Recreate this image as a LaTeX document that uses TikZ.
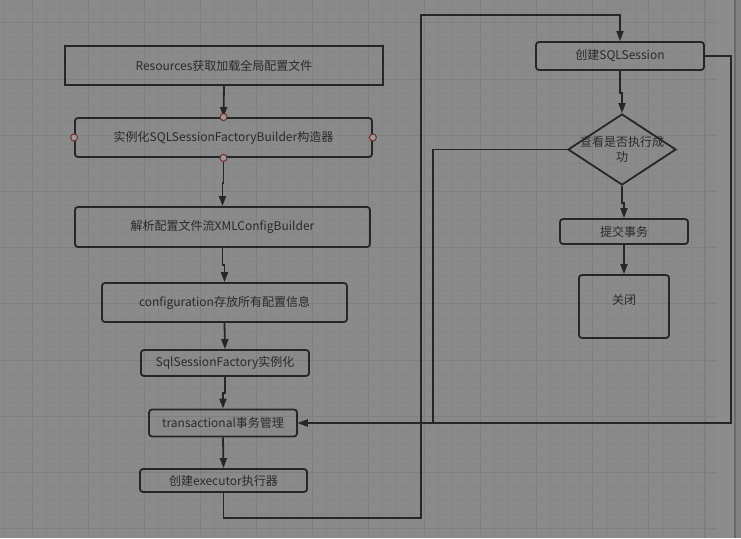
\documentclass[tikz,border=0pt]{standalone}
\usepackage{fontspec}
\setmainfont{Noto Sans CJK SC}
\usetikzlibrary{arrows.meta, shapes.geometric}

\definecolor{bggray}{HTML}{8A8A8A}
\definecolor{gridminor}{HTML}{858585}
\definecolor{gridmajor}{HTML}{7F7F7F}
\definecolor{stripgray}{HTML}{8C8C8C}
\definecolor{edgegray}{HTML}{6A6A6A}
\definecolor{outgray}{HTML}{828282}
\definecolor{stroke}{HTML}{262626}
\definecolor{ink}{HTML}{2A2A2A}
\definecolor{portred}{HTML}{7A2B2B}
\definecolor{portfill}{HTML}{9A9A9A}

\begin{document}
\begin{tikzpicture}[x=1pt, y=-1pt,
                    box/.style={draw=stroke, line width=1.8pt, rounded corners=3pt, text=ink,
                                font=\fontsize{12}{15}\selectfont, inner sep=0pt},
                    decision/.style={diamond, draw=stroke, line width=1.8pt, inner sep=0pt},
                    flow/.style={-{Triangle[width=7pt,length=10pt]}, line width=1.8pt, draw=stroke},
                    port/.style={draw=portred, fill=portfill, line width=1pt}]

            % canvas and grid
            \useasboundingbox (0,0) rectangle (741,538);
            \fill[outgray] (0,0) rectangle (741,538);
            \fill[bggray] (0,0) rectangle (717,538);
            \fill[stripgray] (717,0) rectangle (735,538);
            \draw[edgegray, line width=2pt] (735,0) -- (735,538);
            \foreach \i in {0,...,50} {
                \pgfmathsetmacro\gx{4.2+14.016*\i}
                \pgfmathtruncatemacro\gm{mod(\i,4)}
                \ifnum\gm=2
                    \draw[gridmajor, line width=1.1pt] (\gx,0) -- (\gx,538);
                \else
                    \draw[gridminor, line width=0.7pt] (\gx,0) -- (\gx,538);
                \fi
            }
            \foreach \j in {0,...,37} {
                \pgfmathsetmacro\gy{528.7-14.05*\j}
                \pgfmathtruncatemacro\gm{mod(\j,4)}
                \ifnum\gm=0
                    \draw[gridmajor, line width=1.1pt] (0,\gy) -- (717,\gy);
                \else
                    \draw[gridminor, line width=0.7pt] (0,\gy) -- (717,\gy);
                \fi
            }

            % left column
            \node[box, rounded corners=0pt, minimum width=318, minimum height=39] (res) at (224,65.5) {Resources获取加载全局配置文件};
            \node[box, minimum width=297, minimum height=39] (builder) at (223.5,137.5) {实例化SQLSessionFactoryBuilder构造器};
            \node[box, minimum width=295, minimum height=40] (parse) at (222.5,227) {解析配置文件流XMLConfigBuilder};
            \node[box, minimum width=245, minimum height=39] (config) at (224.5,302.5) {configuration存放所有配置信息};
            \node[box, minimum width=168, minimum height=26] (factory) at (225,363) {SqlSessionFactory实例化};
            \node[box, minimum width=148, minimum height=27] (trans) at (223,423) {transactional事务管理};
            \node[box, minimum width=167, minimum height=23] (exec) at (223.5,480.5) {创建executor执行器};

            % right column
            \node[box, minimum width=168, minimum height=28] (session) at (620,56) {创建SQLSession};
            \node[decision, minimum width=108, minimum height=71] (check) at (622,149.5) {};
            \node[text=ink, font=\fontsize{12}{15}\selectfont, align=center, inner sep=0pt] (checktext) at (check.center) {查看是否执行成\\功};
            \node[box, minimum width=128, minimum height=25] (commit) at (624,231.5) {提交事务};
            \node[box, minimum width=90, minimum height=63, text depth=15pt] (close) at (624,306.5) {关闭};

            \draw[flow] (res.south) -- (builder.north);
            \draw[flow] (builder.south) -- ++(0,25) -| (parse.north);
            \draw[flow] (parse.south) -- ++(0,17) -| (config.north);
            \draw[flow] (config.south) -- (factory.north);
            \draw[flow] (factory.south) -- ++(0,16) -| (trans.north);
            \draw[flow] (trans.south) -- (exec.north);

            \coordinate (loopbot) at (421,518);
            \coordinate (looptop) at (421,15);
            \draw[flow] (exec.south) |- (loopbot) -- (looptop) -| (session.north);

            \draw[flow] (session.south) -- ++(0,22) -| (check.north);
            \draw[flow] (check.south) -- ++(0,17) -| (commit.north);
            \draw[flow] (commit.south) -- (close.north);

            \coordinate (backcorner) at (731,423);
            \draw[flow] (session.east) -| (backcorner) -- (trans.east);
            \coordinate (failcorner) at (433,423);
            \draw[flow] (check.west) -| (failcorner) -- (trans.east);

            \foreach \a in {north,south,west,east}
                \draw[port] (builder.\a) circle (3.5);
        \end{tikzpicture}
\end{document}
